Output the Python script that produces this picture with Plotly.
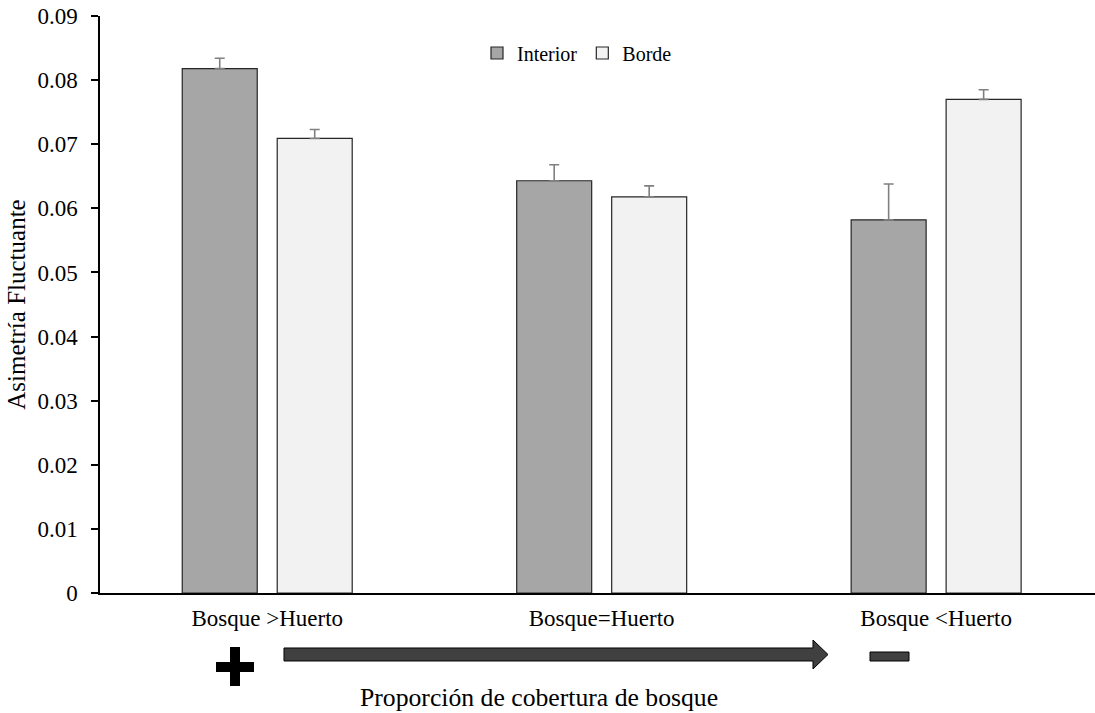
import plotly.graph_objects as go

categories = ["Bosque >Huerto", "Bosque=Huerto", "Bosque <Huerto"]
interior = [0.0818, 0.0643, 0.0582]
interior_err = [0.0016, 0.0025, 0.0056]
borde = [0.0709, 0.0618, 0.0770]
borde_err = [0.0014, 0.0017, 0.0015]

W, H = 1095, 713
L, R, T, B = 100, 0, 16, 120
PW, PH = W - L - R, H - T - B
FONT = "Liberation Serif"


def px(x):
    return (x - L) / PW


def py(y):
    return (H - B - y) / PH


fig = go.Figure()
fig.add_trace(go.Bar(
    name="Interior", x=categories, y=interior,
    marker=dict(color="#a6a6a6", line=dict(color="#262626", width=1.2)),
    error_y=dict(type="data", array=interior_err, arrayminus=[0, 0, 0], symmetric=False,
                 color="#808080", thickness=1.6, width=5),
))
fig.add_trace(go.Bar(
    name="Borde", x=categories, y=borde,
    marker=dict(color="#f2f2f2", line=dict(color="#262626", width=1.2)),
    error_y=dict(type="data", array=borde_err, arrayminus=[0, 0, 0], symmetric=False,
                 color="#808080", thickness=1.6, width=5),
))

shapes = []
# plus sign
shapes.append(dict(type="rect", xref="paper", yref="paper", x0=px(216), x1=px(254), y0=py(672), y1=py(662),
                   fillcolor="black", line=dict(width=0), layer="above"))
shapes.append(dict(type="rect", xref="paper", yref="paper", x0=px(230), x1=px(240), y0=py(686), y1=py(647),
                   fillcolor="black", line=dict(width=0), layer="above"))
# arrow
pts = [(284, 648), (813, 648), (813, 640), (828, 654.5), (813, 669), (813, 661), (284, 661)]
path = "M " + " L ".join(f"{px(a):.5f},{py(b):.5f}" for a, b in pts) + " Z"
shapes.append(dict(type="path", xref="paper", yref="paper", path=path,
                   fillcolor="#404040", line=dict(color="black", width=1), layer="above"))
# minus
shapes.append(dict(type="rect", xref="paper", yref="paper", x0=px(870), x1=px(909), y0=py(661), y1=py(652),
                   fillcolor="#404040", line=dict(color="black", width=1), layer="above"))

fig.update_layout(
    width=W, height=H,
    margin=dict(l=L, r=R, t=T, b=B, pad=0),
    plot_bgcolor="white", paper_bgcolor="white",
    font=dict(family=FONT, size=23, color="black"),
    barmode="group", bargap=0.432, bargroupgap=0.2105,
    showlegend=True,
    legend=dict(orientation="h", x=px(477), y=py(53), xanchor="left", yanchor="middle",
                font=dict(family=FONT, size=20), bgcolor="rgba(0,0,0,0)", itemwidth=30,
                tracegroupgap=0),
    xaxis=dict(range=[-0.5, 2.475], showline=True, linecolor="black", linewidth=1.5,
               ticks="", showgrid=False, zeroline=False, tickfont=dict(family=FONT, size=23),
               ticklabelstandoff=4),
    yaxis=dict(range=[0, 0.09], dtick=0.01, showline=True, linecolor="black", linewidth=1.5,
               ticks="outside", ticklen=7, tickwidth=1.5, tickcolor="black",
               showgrid=False, zeroline=False, tickfont=dict(family=FONT, size=23),
               ticklabelstandoff=9,
               title=dict(text="Asimetría Fluctuante", font=dict(family=FONT, size=25), standoff=5)),
    shapes=shapes,
    annotations=[dict(text="Proporción de cobertura de bosque", xref="paper", yref="paper",
                      x=px(539), y=py(697), showarrow=False, xanchor="center", yanchor="middle",
                      font=dict(family=FONT, size=25.7))],
)

fig.write_html("out.html")
